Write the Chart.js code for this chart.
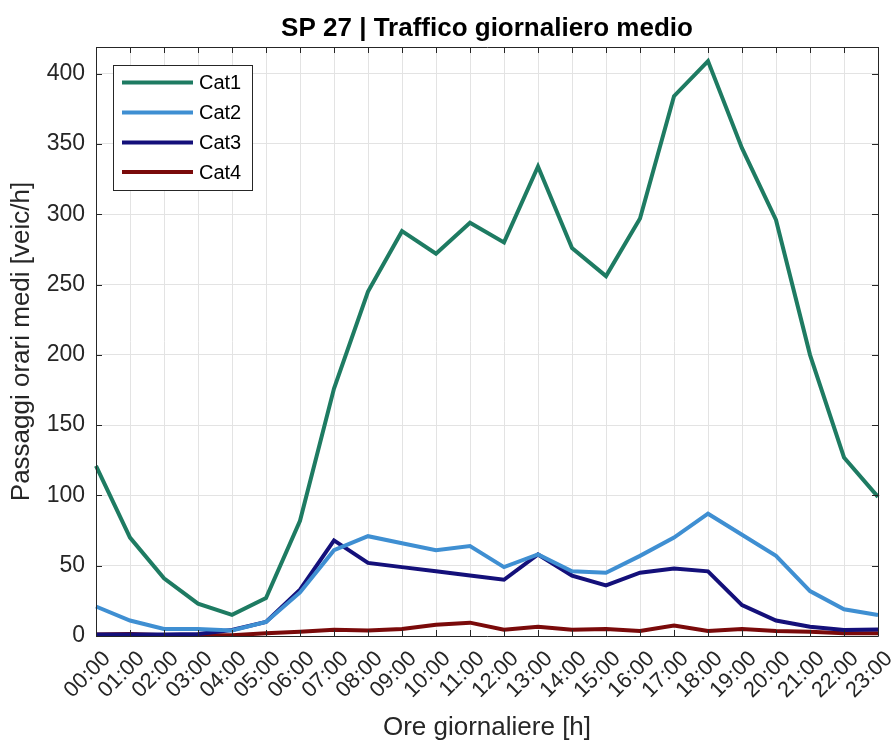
<!DOCTYPE html>
<html>
<head>
<meta charset="utf-8">
<script src="https://cdn.jsdelivr.net/npm/chart.js@4.4.1/dist/chart.umd.min.js"></script>
<style>
  html, body { margin: 0; padding: 0; background: #ffffff; }
  #wrap { width: 894px; height: 745px; position: relative; }
</style>
</head>
<body>
<div id="wrap"><canvas id="c" width="894" height="745"></canvas></div>
<script>
const hours = ["00:00","01:00","02:00","03:00","04:00","05:00","06:00","07:00","08:00","09:00","10:00","11:00",
               "12:00","13:00","14:00","15:00","16:00","17:00","18:00","19:00","20:00","21:00","22:00","23:00"];
const cat1 = [121, 70, 41, 23, 15, 27, 82, 176, 245, 288, 272, 294, 280, 334, 276, 256, 297, 384, 409, 347, 296, 200, 127, 99];
const cat2 = [21, 11, 5, 5, 4, 10, 31, 61, 71, 66, 61, 64, 49, 58, 46, 45, 57, 70, 87, 72, 57, 32, 19, 15];
const cat3 = [1, 1, 1, 1.5, 4.3, 10, 33, 68, 52, 49, 46, 43, 40, 58, 43, 36, 45, 48, 46, 22, 11, 6.6, 4.3, 4.7];
const cat4 = [1, 1.5, 0.5, 0.5, 0.5, 2, 3, 4.5, 4, 5, 8, 9.5, 4.5, 6.5, 4.5, 5, 3.5, 7.5, 3.5, 5, 3.5, 3, 2, 2];
const seriesNames = ["Cat1", "Cat2", "Cat3", "Cat4"];
const seriesColors = ["#1e7b62", "#3f8fd2", "#14107a", "#7a0a0a"];
const yTicks = [0, 50, 100, 150, 200, 250, 300, 350, 400];
const yMax = 419;
const chartTitle = "SP 27 | Traffico giornaliero medio";

const FONT = "'Liberation Sans', Arial, Helvetica, sans-serif";
const TXT = "#262626";

const frame = {
  id: "frame",
  afterDraw(chart) {
    const ctx = chart.ctx, a = chart.chartArea;
    const xs = chart.scales.x, ys = chart.scales.y;
    ctx.save();
    // title centred over the axes
    ctx.fillStyle = "#000000";
    ctx.font = "bold 26px " + FONT;
    ctx.textAlign = "center";
    ctx.textBaseline = "alphabetic";
    ctx.fillText(chartTitle, (a.left + a.right) / 2, 36);

    ctx.strokeStyle = TXT;
    ctx.lineWidth = 1;
    ctx.beginPath();
    ctx.rect(Math.round(a.left) + 0.5, Math.round(a.top) + 0.5, Math.round(a.right - a.left), Math.round(a.bottom - a.top));
    ctx.stroke();
    const tl = 6;
    ctx.beginPath();
    hours.forEach((h, i) => {
      const px = Math.round(xs.getPixelForValue(i)) + 0.5;
      ctx.moveTo(px, a.bottom); ctx.lineTo(px, a.bottom - tl);
      ctx.moveTo(px, a.top); ctx.lineTo(px, a.top + tl);
    });
    yTicks.forEach(v => {
      const py = Math.round(ys.getPixelForValue(v)) + 0.5;
      ctx.moveTo(a.left, py); ctx.lineTo(a.left + tl, py);
      ctx.moveTo(a.right, py); ctx.lineTo(a.right - tl, py);
    });
    ctx.stroke();

    // legend box
    const lx = 113, ly = 65, lw = 139, lh = 125;
    ctx.fillStyle = "#ffffff";
    ctx.fillRect(lx, ly, lw, lh);
    ctx.strokeStyle = TXT;
    ctx.lineWidth = 1;
    ctx.strokeRect(lx + 0.5, ly + 0.5, lw, lh);
    const rows = [82.5, 112.5, 142.5, 172];
    chart.data.datasets.forEach((ds, i) => {
      ctx.strokeStyle = ds.borderColor;
      ctx.lineWidth = 4;
      ctx.beginPath();
      ctx.moveTo(122, rows[i]); ctx.lineTo(193, rows[i]);
      ctx.stroke();
      ctx.fillStyle = "#000000";
      ctx.font = "20px " + FONT;
      ctx.textBaseline = "middle";
      ctx.textAlign = "left";
      ctx.fillText(ds.label, 199, rows[i] + 1);
    });
    ctx.restore();
  }
};

new Chart(document.getElementById("c"), {
  type: "line",
  data: {
    labels: hours,
    datasets: [cat1, cat2, cat3, cat4].map((d, i) => ({
      label: seriesNames[i],
      data: d,
      borderColor: seriesColors[i],
      backgroundColor: seriesColors[i],
      borderWidth: 4,
      pointRadius: 0,
      tension: 0,
      fill: false
    }))
  },
  options: {
    responsive: false,
    animation: false,
    events: [],
    layout: { padding: { left: 0, right: 16, top: 47, bottom: 0 } },
    plugins: {
      legend: { display: false },
      tooltip: { enabled: false },
      title: { display: false }
    },
    scales: {
      x: {
        type: "category",
        offset: false,
        grid: { color: "#e3e3e3", lineWidth: 1, drawTicks: false },
        border: { display: false },
        ticks: {
          color: TXT,
          font: { family: FONT, size: 22 },
          maxRotation: 45, minRotation: 45,
          autoSkip: false,
          padding: 10,
          labelOffset: 11
        },
        title: {
          display: true,
          text: "Ore giornaliere [h]",
          color: TXT,
          font: { family: FONT, size: 26 },
          padding: { top: 2, bottom: 2 }
        },
        afterFit(s) { s.height = 745 - 636; s.paddingLeft = 0; s.paddingRight = 0; }
      },
      y: {
        min: 0, max: yMax,
        afterBuildTicks(s) { s.ticks = yTicks.map(v => ({ value: v })); },
        grid: { color: "#e3e3e3", lineWidth: 1, drawTicks: false },
        border: { display: false },
        ticks: {
          color: TXT,
          font: { family: FONT, size: 23 },
          padding: 11
        },
        title: {
          display: true,
          text: "Passaggi orari medi [veic/h]",
          color: TXT,
          font: { family: FONT, size: 26 },
          padding: { top: 6, bottom: 4 }
        },
        afterFit(s) { s.width = 96; s.paddingTop = 0; s.paddingBottom = 0; }
      }
    }
  },
  plugins: [frame]
});
</script>
</body>
</html>
